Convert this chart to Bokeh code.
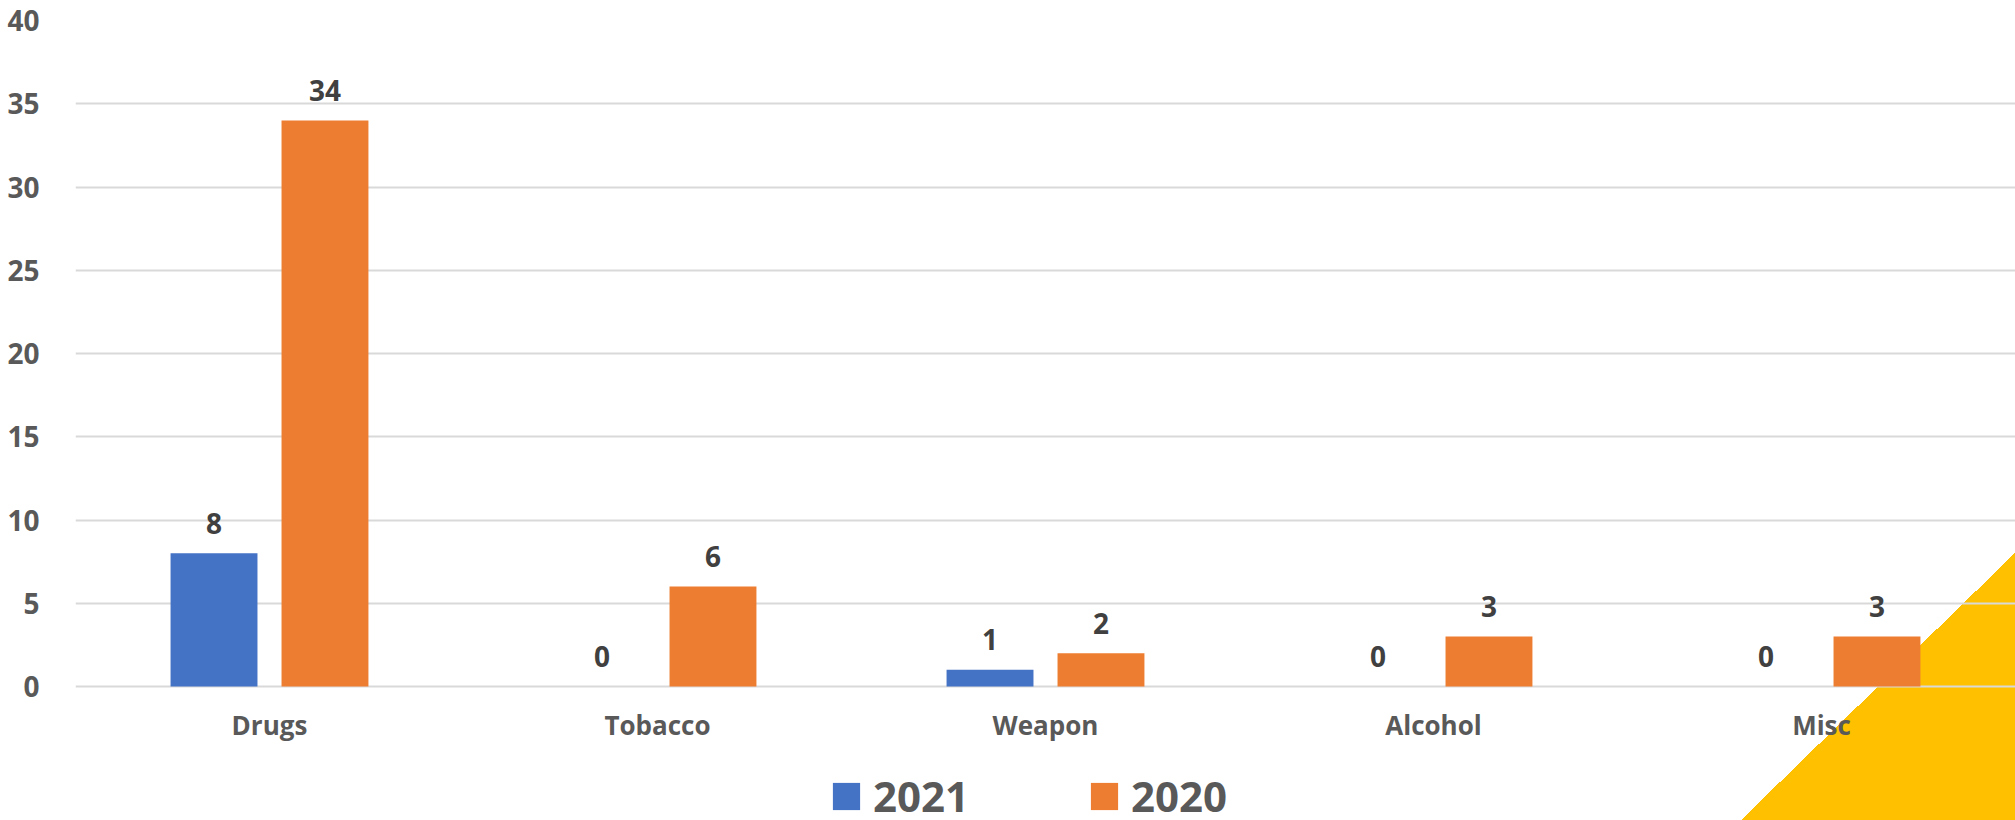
from bokeh.plotting import figure
from bokeh.models import ColumnDataSource, FactorRange, Range1d, Legend, LegendItem
from bokeh.transform import dodge
from bokeh.core.properties import value
from bokeh.embed import file_html
from bokeh.resources import INLINE

categories = ["Drugs", "Tobacco", "Weapon", "Alcohol", "Misc"]
series_names = ["2021", "2020"]
values_2021 = [8, 0, 1, 0, 0]
values_2020 = [34, 6, 2, 3, 3]
y_ticks = [0, 5, 10, 15, 20, 25, 30, 35, 40]

BLUE = "#4472C4"
ORANGE = "#ED7D31"
YELLOW = "#FFC000"
GREY = "#595959"
DARK = "#404040"
FONT = "Open Sans"

src = ColumnDataSource(dict(
    cat=categories,
    v2021=values_2021,
    v2020=values_2020,
    t2021=[str(v) for v in values_2021],
    t2020=[str(v) for v in values_2020],
))

W, H = 2015, 820
TOP, LEFT = 20, 75
PX_PER_UNIT = 666 / 40.0                      # vertical scale of the value axis
y_start = -(H - TOP - 666) / PX_PER_UNIT      # frame extends below zero for labels + legend

p = figure(x_range=FactorRange(factors=categories, range_padding=0),
           y_range=Range1d(y_start, 40),
           width=W, height=H, output_backend="svg", toolbar_location=None,
           min_border_left=LEFT, min_border_right=0, min_border_top=TOP, min_border_bottom=0)
p.outline_line_color = None
p.background_fill_color = None
p.border_fill_color = None
# decorative yellow corner triangle behind the chart (CSS background of the plot element)
p.styles = {
    "background-color": "white",
    "background-image": "linear-gradient(to bottom right, rgba(255,192,0,0) 50%, " + YELLOW + " 50%)",
    "background-repeat": "no-repeat",
    "background-position": "1741px 553px",
    "background-size": "274px 267px",
}

bw = 0.224
off = 0.143
r1 = p.vbar(x=dodge("cat", -off, range=p.x_range), top="v2021", bottom=0, width=bw, source=src,
            fill_color=BLUE, line_color=None)
r2 = p.vbar(x=dodge("cat", off, range=p.x_range), top="v2020", bottom=0, width=bw, source=src,
            fill_color=ORANGE, line_color=None)

for col, o in (("2021", -off), ("2020", off)):
    p.text(x=dodge("cat", o, range=p.x_range), y="v" + col, text="t" + col, source=src,
           text_font=value(FONT), text_font_style="bold", text_font_size="28px",
           text_color=DARK, text_align="center", text_baseline="alphabetic", y_offset=-30)

# axes
p.yaxis.ticker = y_ticks
p.yaxis.axis_line_color = None
p.yaxis.major_tick_line_color = None
p.yaxis.minor_tick_line_color = None
p.yaxis.major_label_standoff = 30
p.yaxis.major_label_text_font = FONT
p.yaxis.major_label_text_font_style = "bold"
p.yaxis.major_label_text_font_size = "28px"
p.yaxis.major_label_text_color = GREY

p.xaxis.fixed_location = 0
p.xaxis.axis_line_color = None
p.xaxis.major_tick_line_color = None
p.xaxis.minor_tick_line_color = None
p.xaxis.major_label_standoff = 14
p.xaxis.major_label_text_font = FONT
p.xaxis.major_label_text_font_style = "bold"
p.xaxis.major_label_text_font_size = "26px"
p.xaxis.major_label_text_color = GREY

p.xgrid.grid_line_color = None
p.ygrid.ticker = y_ticks
p.ygrid.grid_line_color = "#D9D9D9"
p.ygrid.grid_line_width = 2

legend = Legend(items=[LegendItem(label=series_names[0], renderers=[r1]),
                       LegendItem(label=series_names[1], renderers=[r2])],
                orientation="horizontal", location=(754, -4),
                label_text_font=FONT, label_text_font_style="bold",
                label_text_font_size="42px", label_text_color=GREY,
                glyph_width=34, glyph_height=34, label_standoff=10, spacing=118,
                padding=0, margin=0, border_line_color=None, background_fill_alpha=0)
p.add_layout(legend)

open("out.html", "w").write(file_html(p, INLINE))
